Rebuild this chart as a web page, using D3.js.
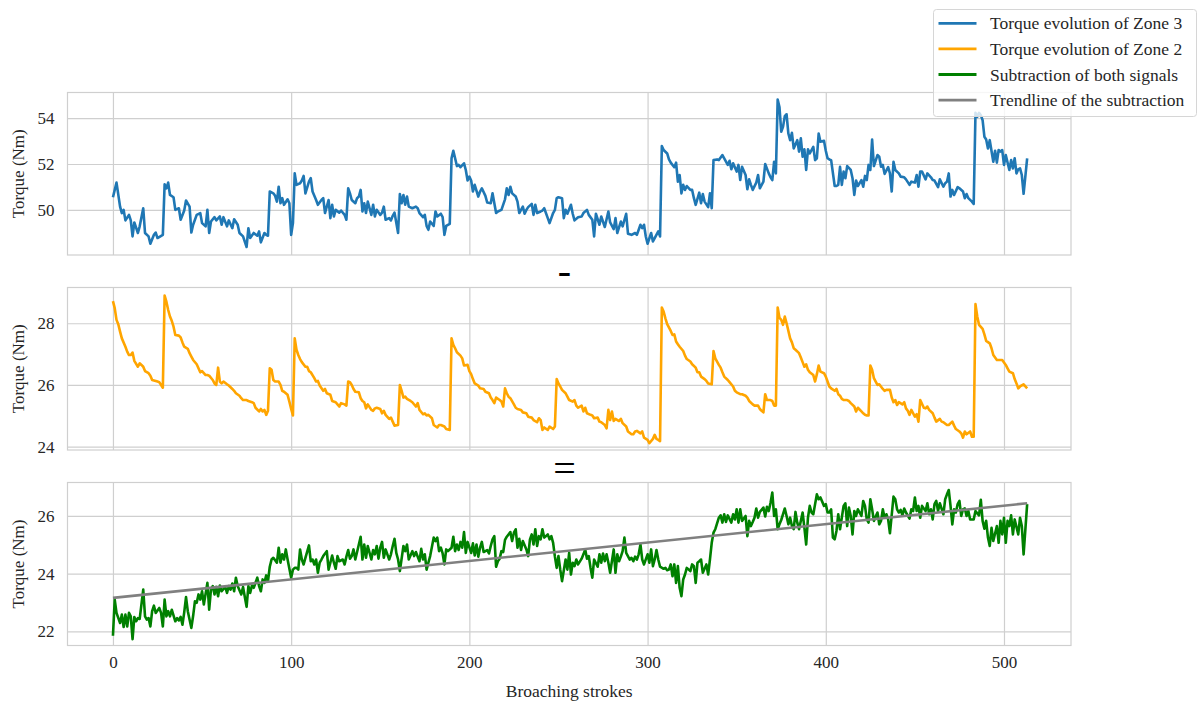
<!DOCTYPE html>
<html>
<head>
<meta charset="utf-8">
<script src="https://cdn.jsdelivr.net/npm/d3@7"></script>
<style>
  html, body { margin: 0; padding: 0; background: #fff; }
  svg { display: block; }
</style>
</head>
<body>
<svg id="chart" width="1199" height="702"></svg>
<script>
// ---- data -------------------------------------------------------------
const strokeTicks = [0, 100, 200, 300, 400, 500];
const zone3Ticks = [50, 52, 54];
const zone2Ticks = [24, 26, 28];
const subtractionTicks = [22, 24, 26];

const seriesLabels = [
  "Torque evolution of Zone 3",
  "Torque evolution of Zone 2",
  "Subtraction of both signals",
  "Trendline of the subtraction"
];
const axisLabelX = "Broaching strokes";
const axisLabelY = "Torque (Nm)";

// [stroke, torque (Nm)]
const zone3 = [[0,50.55],[2,51.19],[4,50.14],[5,49.86],[6,50.00],[7,49.54],[9,49.78],[10,49.54],[11,48.84],[12,49.45],[14,48.99],[15,49.28],[17,50.07],[18,48.99],[20,48.84],[21,48.52],[23,48.91],[24,49.01],[25,48.77],[28,48.91],[29,51.12],[30,50.94],[31,51.19],[32,50.65],[34,50.55],[35,50.00],[37,50.07],[38,49.57],[40,49.97],[41,50.41],[43,50.14],[44,49.01],[45,49.35],[47,49.78],[49,49.86],[50,49.42],[52,49.28],[53,50.00],[54,48.99],[55,49.49],[57,49.68],[58,49.54],[60,49.71],[61,49.35],[62,49.68],[64,49.28],[65,49.54],[67,49.20],[68,49.59],[70,49.35],[71,48.99],[73,48.84],[75,48.38],[76,49.20],[77,48.77],[79,48.99],[81,48.87],[82,49.06],[83,48.58],[85,48.99],[86,48.91],[87,48.87],[88,50.80],[90,50.72],[91,50.61],[92,50.36],[93,51.01],[94,50.29],[95,50.51],[96,50.22],[98,50.46],[99,50.29],[100,48.91],[101,49.42],[102,51.59],[103,51.09],[105,51.16],[106,51.28],[107,51.48],[108,50.72],[110,51.23],[111,51.38],[112,50.80],[114,50.43],[115,50.22],[117,50.43],[118,50.51],[119,49.86],[121,50.43],[122,49.64],[123,50.22],[124,49.71],[125,50.00],[127,49.88],[128,49.97],[130,49.78],[131,49.57],[132,50.94],[133,50.72],[134,50.43],[136,50.29],[137,50.51],[138,50.58],[139,50.87],[140,49.93],[141,50.29],[142,49.86],[143,50.36],[145,49.78],[146,50.22],[147,49.71],[148,50.00],[150,49.78],[151,49.88],[152,50.14],[153,49.57],[155,49.64],[156,49.54],[157,49.74],[158,49.88],[160,48.99],[161,50.69],[162,50.29],[163,50.65],[164,50.22],[165,50.58],[166,50.14],[168,50.07],[170,50.14],[171,50.07],[172,49.86],[174,49.68],[175,49.78],[176,49.30],[177,49.13],[178,49.49],[180,49.30],[181,49.93],[182,49.71],[184,49.83],[185,49.68],[186,48.91],[187,49.30],[189,49.39],[190,52.25],[191,52.58],[192,52.25],[193,51.91],[194,51.96],[195,51.86],[197,52.03],[198,51.74],[199,51.28],[200,51.45],[201,51.28],[202,50.80],[203,51.09],[205,50.58],[206,50.80],[207,50.94],[209,50.61],[210,50.32],[212,50.29],[213,50.72],[215,49.86],[216,49.93],[218,50.00],[220,50.46],[221,50.94],[222,50.65],[223,51.01],[224,50.72],[226,50.58],[227,50.36],[228,49.86],[230,50.14],[231,49.83],[232,50.00],[233,50.12],[235,50.26],[236,49.78],[237,50.22],[238,49.86],[240,49.93],[241,49.97],[242,50.07],[244,49.64],[245,49.42],[247,49.86],[248,50.00],[249,50.51],[250,50.55],[252,50.51],[253,49.64],[254,50.00],[255,49.83],[257,50.22],[258,49.83],[259,49.54],[261,49.68],[263,49.71],[264,49.86],[266,50.00],[267,49.78],[269,49.57],[270,48.84],[271,49.83],[273,49.35],[274,49.71],[276,49.25],[277,49.59],[278,49.93],[279,49.45],[281,49.16],[282,49.64],[283,48.99],[285,49.49],[286,49.28],[288,49.83],[289,48.96],[291,48.91],[293,48.99],[294,48.91],[296,49.35],[297,49.20],[298,49.35],[299,48.84],[300,48.52],[302,48.99],[303,48.62],[304,48.77],[306,49.06],[307,48.84],[308,52.78],[309,52.61],[311,52.46],[312,52.20],[313,52.06],[315,51.86],[316,52.06],[317,51.23],[318,51.52],[319,50.72],[320,51.09],[321,50.87],[322,51.04],[324,50.87],[325,50.87],[326,50.51],[327,50.22],[329,50.75],[330,50.29],[331,50.69],[332,50.36],[334,50.12],[335,50.72],[336,50.07],[337,52.17],[339,52.20],[340,52.17],[342,52.39],[343,52.25],[345,51.96],[346,52.14],[347,51.77],[348,52.03],[350,51.67],[351,51.96],[352,51.30],[353,51.88],[355,51.52],[356,50.90],[357,51.33],[358,51.09],[359,50.87],[361,51.19],[362,51.52],[363,50.94],[365,51.23],[366,52.00],[368,51.59],[369,51.42],[370,51.30],[371,52.10],[372,51.59],[373,54.81],[374,54.49],[375,53.41],[376,53.62],[377,54.09],[378,54.17],[379,53.33],[380,53.04],[381,53.36],[382,52.68],[384,53.04],[385,52.54],[386,53.12],[387,52.32],[388,52.64],[389,51.74],[390,52.64],[391,52.46],[393,52.75],[394,52.17],[395,52.25],[396,53.33],[397,52.97],[399,53.01],[400,52.58],[401,52.25],[402,52.20],[403,52.17],[405,51.04],[406,51.04],[407,51.09],[408,51.88],[409,51.09],[410,51.67],[411,51.38],[412,51.91],[414,51.74],[415,51.38],[416,50.65],[417,51.28],[418,51.04],[420,51.30],[421,51.01],[422,51.48],[423,51.30],[424,51.96],[425,51.74],[426,53.07],[427,51.91],[429,52.39],[430,52.32],[431,51.88],[432,51.96],[433,51.57],[435,51.86],[436,51.59],[437,50.80],[438,52.10],[439,51.74],[441,51.59],[442,51.45],[444,51.42],[445,51.33],[447,51.09],[448,51.23],[450,51.19],[451,51.52],[452,51.01],[453,51.67],[454,51.67],[456,51.33],[457,51.59],[459,51.42],[460,51.30],[461,51.28],[463,50.99],[464,51.33],[466,51.01],[467,51.16],[468,51.23],[469,51.59],[470,50.58],[471,50.87],[472,50.65],[474,50.99],[475,50.94],[477,50.80],[478,50.51],[479,50.69],[480,50.51],[482,50.36],[483,50.26],[484,54.23],[485,54.06],[486,54.23],[487,54.13],[488,53.91],[489,53.19],[490,53.07],[491,52.68],[492,53.04],[494,52.10],[495,52.58],[496,52.06],[497,52.61],[498,52.54],[499,52.61],[500,51.96],[501,52.39],[503,51.74],[504,52.17],[505,51.81],[506,52.25],[507,51.59],[508,51.77],[509,51.81],[510,51.52],[511,50.70],[513,52.25]];

const zone2 = [[0,28.72],[1,28.49],[2,28.11],[3,27.97],[4,27.73],[5,27.51],[7,27.24],[8,27.08],[9,26.97],[10,26.97],[11,27.05],[12,26.78],[14,26.59],[15,26.70],[16,26.65],[17,26.59],[18,26.45],[20,26.38],[21,26.30],[22,26.16],[24,26.13],[25,26.11],[26,26.09],[27,26.00],[28,25.91],[29,28.90],[30,28.70],[31,28.43],[32,28.22],[33,28.08],[34,27.89],[35,27.62],[37,27.60],[38,27.54],[39,27.38],[40,27.24],[42,27.17],[43,27.03],[44,26.92],[45,26.81],[47,26.67],[48,26.54],[49,26.41],[50,26.45],[52,26.32],[53,26.32],[54,26.30],[56,26.16],[57,26.05],[58,26.00],[59,26.56],[60,26.11],[61,26.05],[62,26.11],[64,26.02],[65,25.98],[67,25.87],[68,25.81],[69,25.73],[71,25.65],[72,25.57],[73,25.51],[75,25.51],[76,25.48],[78,25.44],[79,25.41],[80,25.26],[82,25.14],[83,25.22],[84,25.14],[85,25.19],[86,25.03],[87,25.16],[88,26.54],[89,26.49],[90,26.16],[91,26.11],[93,26.11],[94,26.00],[95,25.81],[96,25.78],[98,25.68],[99,25.46],[100,25.22],[101,25.01],[102,27.51],[103,27.14],[104,26.97],[105,26.84],[106,26.74],[108,26.59],[109,26.59],[110,26.45],[111,26.41],[113,26.22],[114,26.11],[115,26.13],[116,25.98],[118,25.81],[119,25.87],[120,25.73],[122,25.68],[123,25.48],[125,25.44],[126,25.37],[127,25.30],[128,25.41],[130,25.37],[131,25.33],[132,26.11],[133,26.09],[134,26.00],[135,25.87],[136,25.78],[138,25.76],[139,25.57],[140,25.48],[141,25.44],[142,25.24],[143,25.37],[145,25.19],[146,25.16],[147,25.24],[148,25.26],[150,25.22],[151,25.08],[152,25.16],[153,25.03],[155,24.90],[156,24.94],[157,24.81],[158,24.68],[160,24.70],[161,26.00],[162,25.81],[163,25.59],[164,25.62],[165,25.55],[167,25.48],[168,25.44],[170,25.30],[171,25.41],[172,25.19],[174,25.05],[175,25.08],[176,25.01],[177,25.03],[179,24.92],[180,24.70],[182,24.62],[183,24.70],[184,24.70],[186,24.65],[187,24.57],[189,24.54],[190,27.51],[191,27.30],[192,27.19],[193,27.06],[195,26.95],[196,26.86],[197,26.63],[199,26.65],[200,26.45],[201,26.35],[202,26.19],[203,26.05],[205,25.98],[206,25.89],[208,25.87],[209,25.78],[211,25.73],[212,25.59],[213,25.51],[214,25.41],[215,25.59],[217,25.51],[218,25.46],[219,25.30],[220,25.89],[221,25.73],[222,25.62],[223,25.57],[225,25.37],[226,25.26],[227,25.22],[229,25.19],[230,25.11],[232,25.08],[233,24.97],[235,24.94],[236,24.86],[238,24.79],[239,24.92],[240,24.86],[241,24.54],[242,24.62],[244,24.54],[245,24.65],[247,24.57],[248,24.65],[249,26.19],[250,26.05],[251,25.95],[252,25.84],[254,25.73],[255,25.62],[256,25.51],[258,25.46],[259,25.51],[260,25.33],[261,25.26],[263,25.33],[264,25.14],[265,25.26],[266,25.08],[268,25.03],[269,25.01],[270,24.92],[272,24.94],[273,24.81],[274,24.79],[276,24.70],[277,24.59],[278,25.19],[279,24.86],[280,25.14],[281,24.83],[282,24.90],[284,24.83],[285,24.90],[286,24.76],[288,24.65],[289,24.49],[291,24.40],[292,24.40],[293,24.49],[294,24.51],[296,24.43],[297,24.49],[298,24.29],[300,24.22],[301,24.11],[303,24.25],[304,24.38],[305,24.25],[306,24.22],[307,24.18],[308,28.51],[309,28.38],[310,28.16],[311,27.97],[313,27.75],[314,27.62],[315,27.64],[316,27.41],[317,27.32],[318,27.24],[320,27.10],[321,26.95],[322,26.84],[324,26.76],[325,26.67],[327,26.56],[328,26.41],[329,26.41],[330,26.27],[332,26.19],[333,26.13],[334,26.05],[336,26.02],[337,27.10],[338,26.86],[340,26.65],[341,26.56],[342,26.41],[343,26.27],[345,26.16],[346,26.09],[348,25.95],[349,25.81],[350,25.76],[352,25.70],[353,25.70],[355,25.65],[356,25.59],[357,25.48],[359,25.37],[360,25.33],[362,25.33],[363,25.22],[364,25.16],[365,25.11],[366,25.70],[367,25.51],[369,25.51],[370,25.48],[371,25.33],[372,25.33],[373,28.51],[374,28.18],[375,28.11],[376,27.95],[377,28.22],[378,28.00],[380,27.51],[381,27.38],[382,27.19],[383,27.14],[385,27.03],[386,26.89],[387,26.74],[388,26.59],[389,26.67],[390,26.49],[391,26.41],[393,26.32],[394,26.11],[395,26.35],[396,26.63],[397,26.43],[399,26.38],[400,26.27],[401,26.11],[402,25.95],[403,25.89],[405,25.81],[406,25.87],[407,25.70],[408,25.65],[409,25.55],[410,25.51],[412,25.51],[413,25.48],[414,25.41],[416,25.30],[417,25.14],[418,25.26],[420,25.14],[421,25.08],[422,25.03],[423,25.01],[424,25.01],[425,26.63],[426,26.49],[427,26.22],[428,26.11],[429,26.00],[430,26.02],[432,25.87],[433,25.81],[434,25.84],[436,25.84],[437,25.59],[438,25.44],[439,25.51],[440,25.35],[441,25.44],[443,25.37],[444,25.44],[445,25.24],[446,25.16],[447,25.03],[448,25.19],[450,24.97],[451,25.05],[452,24.81],[453,25.51],[455,25.26],[456,25.24],[457,25.30],[458,25.19],[460,25.08],[461,24.94],[462,24.81],[464,24.90],[465,24.81],[466,24.79],[468,24.70],[469,24.70],[471,24.81],[472,24.68],[473,24.57],[475,24.49],[476,24.43],[477,24.29],[478,24.49],[479,24.40],[481,24.49],[482,24.32],[483,24.32],[484,28.62],[485,28.22],[486,27.95],[488,27.82],[489,27.64],[490,27.43],[492,27.35],[493,27.19],[494,26.97],[496,26.81],[497,26.81],[499,26.81],[501,26.65],[502,26.54],[503,26.43],[505,26.38],[506,26.19],[507,26.05],[508,25.89],[509,25.95],[511,26.02],[513,25.89]];

const subtraction = [[0,21.85],[1,23.10],[2,22.64],[4,22.29],[5,22.58],[6,22.15],[7,22.58],[8,22.17],[9,22.64],[10,22.52],[11,21.73],[12,22.50],[13,22.35],[14,22.46],[15,22.43],[17,23.45],[18,22.52],[19,22.41],[20,22.46],[21,22.17],[22,22.70],[23,22.89],[24,22.64],[26,22.81],[27,22.64],[28,22.17],[29,23.10],[30,22.52],[31,22.70],[32,22.52],[33,22.75],[35,22.35],[36,22.46],[37,22.38],[38,22.50],[39,22.23],[40,22.66],[41,23.19],[42,22.70],[44,22.12],[45,22.54],[46,23.04],[47,22.99],[48,23.28],[49,23.10],[50,23.39],[51,22.93],[53,23.68],[54,22.75],[55,23.45],[56,23.57],[57,23.28],[58,23.54],[59,23.22],[60,23.59],[61,23.39],[63,23.54],[64,23.33],[65,23.57],[66,23.45],[67,23.66],[68,23.39],[69,23.86],[70,23.57],[72,23.28],[73,23.54],[74,23.19],[75,22.85],[76,23.57],[77,23.33],[78,23.59],[79,23.51],[81,23.86],[82,23.57],[83,23.39],[84,23.80],[85,23.68],[86,23.94],[87,23.74],[88,24.24],[89,24.49],[90,24.55],[92,24.38],[93,24.90],[94,24.38],[95,24.67],[96,24.49],[97,24.84],[98,24.49],[100,23.86],[101,24.14],[102,24.20],[103,24.20],[104,24.14],[105,24.84],[106,24.49],[107,24.32],[108,24.55],[110,24.98],[111,24.43],[112,24.49],[113,24.32],[114,24.49],[115,24.03],[116,24.38],[117,24.49],[118,24.61],[120,24.78],[121,24.14],[122,24.38],[123,24.63],[124,24.38],[125,24.17],[126,24.61],[127,24.43],[129,24.49],[130,24.32],[131,24.59],[132,24.82],[133,24.52],[134,24.61],[135,24.84],[136,24.49],[137,24.75],[139,25.28],[140,24.49],[141,25.01],[142,24.55],[143,24.96],[145,24.49],[146,24.82],[147,24.67],[148,24.96],[149,24.52],[150,24.90],[151,25.10],[152,24.55],[153,24.84],[155,24.49],[156,24.67],[157,24.96],[158,25.21],[159,24.72],[160,24.49],[161,24.09],[163,24.96],[164,24.78],[165,25.01],[166,24.49],[168,24.78],[169,24.61],[170,24.75],[172,24.43],[173,24.86],[174,24.49],[175,24.67],[176,24.14],[177,24.38],[178,24.61],[180,25.25],[181,25.13],[182,25.25],[183,24.78],[184,24.90],[185,24.70],[186,24.32],[187,24.84],[188,24.78],[190,24.90],[191,25.28],[192,24.78],[193,25.01],[194,24.82],[195,25.10],[196,24.90],[197,25.44],[198,24.72],[199,25.10],[201,24.72],[202,25.05],[203,24.63],[204,25.01],[205,24.59],[206,24.90],[207,25.10],[208,24.75],[210,24.82],[211,24.70],[212,24.96],[213,25.19],[214,25.30],[215,24.24],[216,24.43],[217,24.52],[218,24.78],[219,24.75],[220,25.17],[221,25.28],[223,25.44],[224,25.13],[225,25.42],[226,25.54],[227,24.90],[228,25.21],[229,24.82],[230,25.13],[232,24.84],[233,24.61],[234,25.19],[235,25.36],[236,25.01],[237,25.54],[238,24.96],[239,25.30],[240,25.19],[241,25.54],[242,25.25],[244,25.36],[245,25.19],[246,25.30],[247,25.07],[248,24.59],[249,24.20],[250,24.61],[251,24.14],[252,23.74],[254,24.49],[255,24.14],[256,24.72],[257,23.97],[258,24.38],[259,24.26],[260,24.49],[261,24.32],[263,24.52],[264,24.67],[265,24.84],[266,24.52],[267,24.61],[268,24.20],[269,23.86],[270,24.49],[272,24.24],[273,24.67],[274,24.38],[275,24.70],[276,24.43],[277,24.67],[278,24.38],[279,24.03],[281,24.84],[282,24.03],[283,24.67],[284,24.43],[285,24.59],[286,24.78],[287,25.25],[288,24.72],[290,24.49],[291,24.55],[292,24.43],[293,24.59],[294,24.49],[295,24.67],[296,25.01],[297,24.49],[298,24.32],[300,24.67],[301,24.38],[302,24.84],[303,24.26],[304,24.49],[305,24.82],[306,24.49],[307,24.24],[309,24.17],[310,24.20],[311,24.12],[312,24.14],[313,24.32],[314,23.91],[315,24.32],[316,23.68],[317,24.26],[318,23.51],[319,23.22],[320,23.80],[321,23.97],[322,24.20],[324,24.09],[325,24.32],[326,24.26],[327,23.68],[328,24.38],[329,24.43],[330,24.49],[331,24.03],[333,24.32],[334,23.97],[335,24.49],[336,25.07],[337,25.42],[338,25.54],[340,25.94],[341,26.02],[342,25.77],[343,26.06],[344,25.79],[345,26.02],[347,25.77],[348,26.06],[349,25.88],[350,26.23],[351,25.77],[352,26.23],[353,25.83],[355,26.00],[356,25.30],[357,25.83],[358,25.65],[359,25.79],[360,25.94],[361,26.26],[362,25.94],[363,26.14],[365,26.29],[366,25.98],[367,26.32],[368,26.17],[369,26.46],[370,26.81],[371,26.00],[372,26.23],[373,25.54],[374,25.71],[375,25.86],[377,26.26],[378,26.00],[379,25.71],[380,25.94],[381,25.65],[382,25.54],[383,26.14],[384,25.77],[385,25.54],[387,26.12],[388,25.59],[389,25.01],[390,25.94],[391,26.35],[392,26.12],[393,26.06],[394,26.41],[395,26.75],[396,26.58],[397,26.64],[399,26.35],[400,26.41],[401,26.12],[402,26.12],[403,26.23],[404,25.25],[405,25.19],[406,25.48],[407,26.06],[408,25.54],[410,26.35],[411,26.44],[412,25.65],[413,26.29],[414,26.00],[415,25.36],[416,26.17],[417,26.00],[418,26.23],[420,26.00],[421,26.52],[422,26.35],[423,25.88],[424,25.77],[425,26.58],[426,26.23],[427,25.83],[429,26.12],[430,25.71],[431,25.83],[432,26.23],[433,25.94],[434,26.06],[435,25.88],[436,25.40],[438,26.67],[439,26.58],[440,26.23],[441,26.12],[442,26.21],[443,26.02],[444,26.26],[445,26.12],[447,25.91],[448,26.23],[449,26.17],[450,26.64],[451,26.17],[452,26.35],[453,25.94],[454,26.35],[456,26.17],[457,26.44],[458,26.06],[459,26.23],[460,25.88],[461,26.41],[462,26.52],[463,26.17],[464,26.44],[466,26.06],[467,26.58],[468,26.75],[469,26.90],[470,26.35],[471,25.71],[472,26.23],[473,26.12],[474,26.41],[475,26.52],[476,26.00],[477,26.23],[478,26.26],[479,26.00],[480,26.17],[481,25.88],[483,25.88],[484,26.17],[485,26.09],[486,26.02],[487,26.56],[488,25.83],[489,25.56],[490,25.83],[491,25.25],[492,24.96],[493,25.59],[494,25.13],[496,25.65],[497,25.07],[498,25.83],[499,25.36],[500,25.94],[501,25.07],[502,25.83],[503,25.65],[504,26.02],[505,25.36],[506,25.88],[508,25.36],[509,25.94],[510,25.65],[511,24.67],[513,26.41]];

// linear fit of the subtraction, end points
const trendline = [[0, 23.16], [513, 26.44]];

// ---- layout & style ---------------------------------------------------
const W = 1199, H = 702;
const FONT = '"Liberation Serif", "Times New Roman", Times, serif';
const TEXT = "#262626";
const GRID = "#cfcfcf";
const COLORS = ["#1f77b4", "#ffa500", "#008000", "#808080"];

const svg = d3.select("#chart");
svg.append("rect").attr("width", W).attr("height", H).attr("fill", "#fff");

const plotLeft = 67.5, plotRight = 1071;
const x = d3.scaleLinear().domain([-25.5, 537.6]).range([plotLeft, plotRight]);

const panels = [
  { series: [{ data: zone3, color: COLORS[0] }], ticks: zone3Ticks, domain: [48.03, 55.12], top: 92.5, bottom: 255, xLabels: false },
  { series: [{ data: zone2, color: COLORS[1] }], ticks: zone2Ticks, domain: [23.89, 29.16], top: 287.5, bottom: 450, xLabels: false },
  { series: [{ data: subtraction, color: COLORS[2] }, { data: trendline, color: COLORS[3] }], ticks: subtractionTicks, domain: [21.51, 27.16], top: 482.5, bottom: 645.5, xLabels: true }
];

panels.forEach(p => {
  const y = d3.scaleLinear().domain(p.domain).range([p.bottom, p.top]);
  const g = svg.append("g");
  const h = p.bottom - p.top;

  // vertical grid + x tick labels
  g.append("g")
    .attr("transform", `translate(0,${p.bottom})`)
    .call(d3.axisBottom(x).tickValues(strokeTicks).tickSize(-h).tickPadding(10)
      .tickFormat(p.xLabels ? d3.format("d") : () => ""))
    .call(a => a.select(".domain").remove())
    .call(a => a.selectAll("line").attr("stroke", GRID).attr("stroke-width", 1.2))
    .attr("font-family", FONT).attr("font-size", 17)
    .call(a => a.selectAll("text").attr("fill", TEXT));

  // horizontal grid + y tick labels
  g.append("g")
    .attr("transform", `translate(${plotLeft},0)`)
    .call(d3.axisLeft(y).tickValues(p.ticks).tickSize(-(plotRight - plotLeft)).tickPadding(13)
      .tickFormat(d3.format("d")))
    .call(a => a.select(".domain").remove())
    .call(a => a.selectAll("line").attr("stroke", GRID).attr("stroke-width", 1.2))
    .attr("font-family", FONT).attr("font-size", 17)
    .call(a => a.selectAll("text").attr("fill", TEXT));

  // series
  const line = d3.line().x(d => x(d[0])).y(d => y(d[1]));
  p.series.forEach(s => {
    g.append("path")
      .datum(s.data)
      .attr("d", line)
      .attr("fill", "none")
      .attr("stroke", s.color)
      .attr("stroke-width", 2.6)
      .attr("stroke-linejoin", "round")
      .attr("stroke-linecap", "butt");
  });

  // frame
  g.append("rect")
    .attr("x", plotLeft).attr("y", p.top)
    .attr("width", plotRight - plotLeft).attr("height", h)
    .attr("fill", "none").attr("stroke", GRID).attr("stroke-width", 1.2);

  // y label
  g.append("text")
    .attr("transform", `translate(18.5,${(p.top + p.bottom) / 2}) rotate(-90)`)
    .attr("text-anchor", "middle")
    .attr("dominant-baseline", "central")
    .attr("font-family", FONT).attr("font-size", 17).attr("fill", TEXT)
    .text(axisLabelY);
});

// x label
svg.append("text")
  .attr("x", (plotLeft + plotRight) / 2).attr("y", 697)
  .attr("text-anchor", "middle")
  .attr("font-family", FONT).attr("font-size", 17.5).attr("fill", TEXT)
  .text(axisLabelX);

// operators between the panels
svg.append("text")
  .attr("x", 564.5).attr("y", 284)
  .attr("text-anchor", "middle")
  .attr("font-family", FONT).attr("font-size", 40).attr("fill", "#000")
  .text("-");
svg.append("text")
  .attr("x", 564.5).attr("y", 482)
  .attr("text-anchor", "middle")
  .attr("font-family", FONT).attr("font-size", 40).attr("fill", "#000")
  .text("=");

// legend
const legend = svg.append("g").attr("transform", "translate(933.5,9.5)");
legend.append("rect")
  .attr("width", 263).attr("height", 107).attr("rx", 3)
  .attr("fill", "#fff").attr("fill-opacity", 0.8)
  .attr("stroke", "#d6d6d6").attr("stroke-width", 1);
seriesLabels.forEach((label, i) => {
  const yy = 13.8 + i * 25.6;
  legend.append("line")
    .attr("x1", 5).attr("x2", 43).attr("y1", yy).attr("y2", yy)
    .attr("stroke", COLORS[i]).attr("stroke-width", 2.8);
  legend.append("text")
    .attr("x", 56.5).attr("y", yy)
    .attr("dominant-baseline", "central")
    .attr("font-family", FONT).attr("font-size", 17.5).attr("fill", TEXT)
    .text(label);
});
</script>
</body>
</html>
